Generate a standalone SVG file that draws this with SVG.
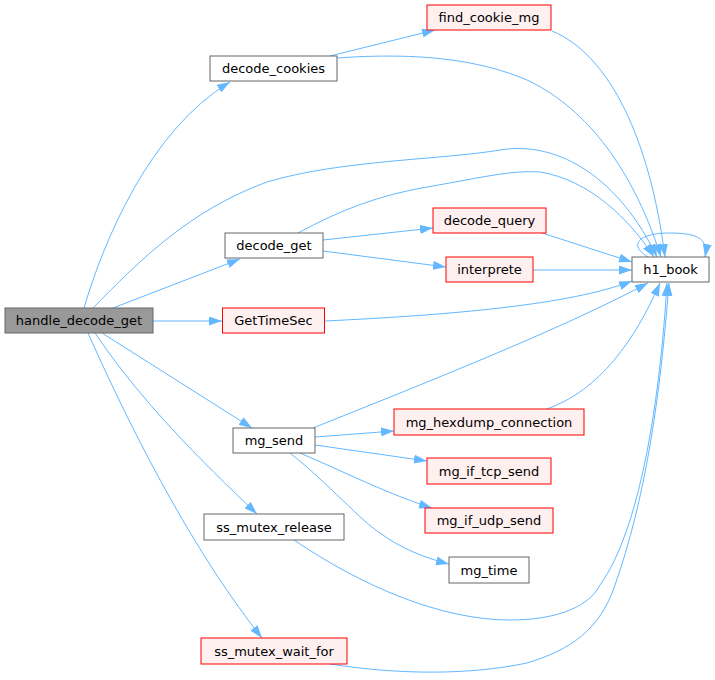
<svg xmlns="http://www.w3.org/2000/svg" width="715" height="680" viewBox="0 0 715 680">
<style>
.n rect{fill:#fff;stroke:#666;stroke-width:1}
.r rect{fill:#fff0f0;stroke:#ff0000;stroke-width:1}
.root rect{fill:#999;stroke:#666;stroke-width:1}
text{font-family:"DejaVu Sans","Liberation Sans",sans-serif;font-size:13px;fill:#000;text-anchor:middle}
#edges path{fill:none;stroke:#63b8ff;stroke-width:1;marker-end:url(#ah)}
</style>
<defs>
<marker id="ah" viewBox="0 0 10 7" markerUnits="userSpaceOnUse" markerWidth="13" markerHeight="9" refX="10" refY="3.5" orient="auto" preserveAspectRatio="none">
<path d="M0,0 L10,3.5 L0,7 z" fill="#63b8ff"/>
</marker>
</defs>
<rect width="715" height="680" fill="#fff"/>
<g id="edges">
<path d="M84,308 C104,240 150,130 230,82"/>
<path d="M93,308 C140,260 190,210 267,182 C340,160 440,160 500,150 C560,140 620,180 657,257"/>
<path d="M113,308 L240,259"/>
<path d="M153,321 L222,321"/>
<path d="M102,333 L252,428"/>
<path d="M95,333 C140,400 200,460 257,514"/>
<path d="M88,333 C140,450 200,560 262,638"/>
<path d="M330,56 L435,30"/>
<path d="M337,58 C420,52 480,60 527,80 C580,105 630,160 661,257"/>
<path d="M552,31 C610,55 650,140 665,257"/>
<path d="M298,233 C340,210 380,195 427,187 C480,178 510,170 540,172 C590,180 630,220 654,257"/>
<path d="M323,240 L433,228"/>
<path d="M323,251 L446,267"/>
<path d="M542,233 L632,262"/>
<path d="M533,270 L632,270"/>
<path d="M325,321 C450,315 570,305 632,281"/>
<path d="M648,257 C628,245 638,233 670,233 C700,233 708,240 705,257"/>
<path d="M313,428 C420,385 560,330 648,283"/>
<path d="M315,437 L394,431"/>
<path d="M315,445 L427,461"/>
<path d="M300,453 C340,470 390,495 432,508"/>
<path d="M290,453 C330,485 360,520 380,533 C400,548 425,558 449,564"/>
<path d="M547,409 C600,390 635,340 660,283"/>
<path d="M294,540 C360,585 440,620 510,620 C560,620 590,605 600,585 C640,530 660,400 667,283"/>
<path d="M330,664 C400,675 470,675 527,663 C570,650 600,630 615,585 C645,500 660,400 669,283"/>
</g>
<g id="handle_decode_get" class="root"><rect x="5" y="308" width="148" height="25"/><text x="79" y="325">handle_decode_get</text></g>
<g id="decode_cookies" class="n"><rect x="210" y="56" width="127" height="25"/><text x="273.5" y="73">decode_cookies</text></g>
<g id="decode_get" class="n"><rect x="225" y="233" width="98" height="25"/><text x="274" y="250">decode_get</text></g>
<g id="GetTimeSec" class="r"><rect x="222.5" y="308" width="102" height="25"/><text x="273.5" y="325">GetTimeSec</text></g>
<g id="mg_send" class="n"><rect x="233" y="428" width="82" height="25"/><text x="274" y="445">mg_send</text></g>
<g id="ss_mutex_release" class="n"><rect x="204" y="514" width="140" height="26"/><text x="274" y="532">ss_mutex_release</text></g>
<g id="ss_mutex_wait_for" class="r"><rect x="201" y="638" width="146" height="26"/><text x="274" y="656">ss_mutex_wait_for</text></g>
<g id="find_cookie_mg" class="r"><rect x="427" y="5" width="124" height="25"/><text x="489" y="22">find_cookie_mg</text></g>
<g id="decode_query" class="r"><rect x="433" y="208" width="113" height="25"/><text x="489.5" y="225">decode_query</text></g>
<g id="interprete" class="r"><rect x="446" y="257" width="87" height="25"/><text x="489.5" y="274">interprete</text></g>
<g id="h1_book" class="n"><rect x="632" y="257" width="77" height="25"/><text x="670.5" y="274">h1_book</text></g>
<g id="mg_hexdump_connection" class="r"><rect x="394" y="409" width="190" height="26"/><text x="489" y="427">mg_hexdump_connection</text></g>
<g id="mg_if_tcp_send" class="r"><rect x="427" y="458" width="124" height="26"/><text x="489" y="476">mg_if_tcp_send</text></g>
<g id="mg_if_udp_send" class="r"><rect x="425" y="508" width="128" height="25"/><text x="489" y="525">mg_if_udp_send</text></g>
<g id="mg_time" class="n"><rect x="449" y="557" width="80" height="26"/><text x="489" y="575">mg_time</text></g>
</svg>
